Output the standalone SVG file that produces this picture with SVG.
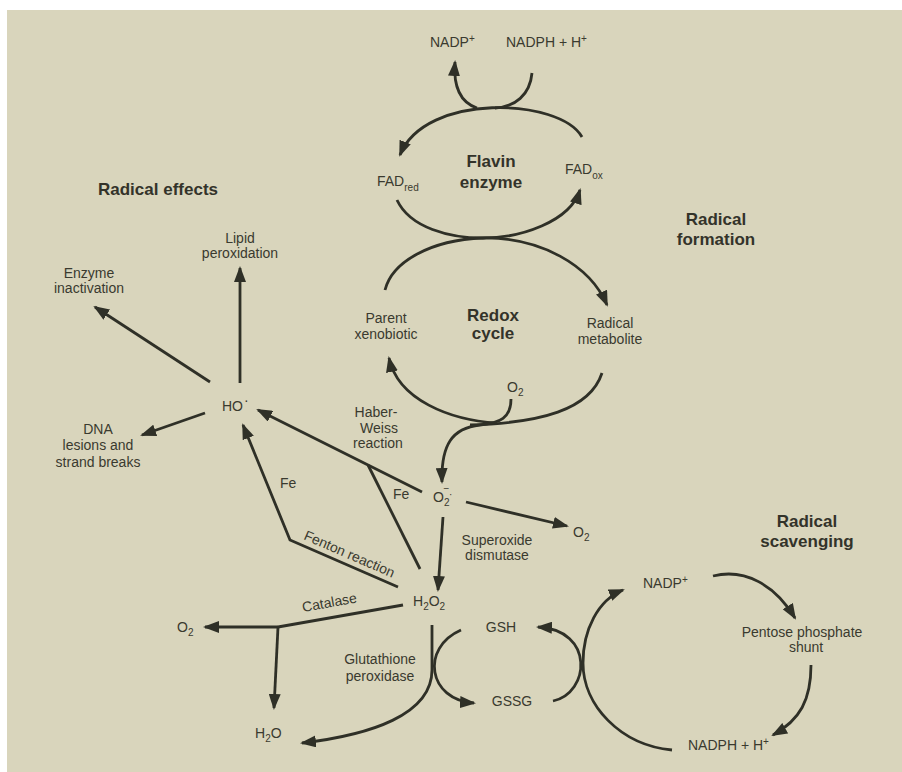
<svg xmlns="http://www.w3.org/2000/svg" width="902" height="772" viewBox="0 0 902 772">
<defs>
<style>
text{font-family:"Liberation Sans",Arial,sans-serif;font-size:14px;fill:#3a3a2f}
.b{font-weight:bold;font-size:17px;fill:#33332a}
.m{text-anchor:middle}
.s{font-size:10px}
.ln{fill:none;stroke:#2f3027;stroke-width:2.8}
.ar{marker-end:url(#ah)}
</style>
<marker id="ah" markerUnits="userSpaceOnUse" markerWidth="16" markerHeight="12" refX="14" refY="6" orient="auto">
<path d="M0,0 L16,6 L0,12 z" fill="#2f3027"/>
</marker>
</defs>
<rect width="902" height="772" fill="#ffffff"/>
<rect x="7" y="10" width="895" height="762" fill="#d9d5bc"/>

<g id="connectors">
<!-- flavin loop -->
<path class="ln ar" d="M582,137 C560,98 425,92 400,155"/>
<path class="ln ar" d="M477,108 C462,103 453,90 455,62"/>
<path class="ln" d="M532,73 C530,95 515,107 495,108"/>
<path class="ln ar" d="M397,200 C410,228 450,238 483,238 C520,238 570,222 580,190"/>
<!-- redox loop -->
<path class="ln ar" d="M385,290 C392,262 430,240 483,238 C540,237 590,265 607,305"/>
<path class="ln ar" d="M497,423 C450,420 398,400 389,358"/>
<path class="ln" d="M602,373 C590,410 540,423 470,425"/>
<path class="ln ar" d="M511,399 C511,418 500,423 480,425 C452,428 441,445 442,482"/>
<!-- radical effects -->
<path class="ln ar" d="M240,383 L240,268"/>
<path class="ln ar" d="M210,382 L95,307"/>
<path class="ln ar" d="M205,413 L142,435"/>
<!-- Haber-Weiss & Fenton -->
<path class="ln ar" d="M422,492 L258,410"/>
<path class="ln" d="M368,465 L420,569"/>
<path class="ln ar" d="M398,587 L290,540 L243,425"/>
<!-- superoxide -->
<path class="ln ar" d="M443,517 L438,590"/>
<path class="ln ar" d="M466,502 L567,526"/>
<!-- catalase -->
<path class="ln" d="M403,605 L278,627"/>
<path class="ln ar" d="M278,627 L205,627"/>
<path class="ln ar" d="M278,627 L274,708"/>
<!-- glutathione -->
<path class="ln ar" d="M432,625 L432,670 C432,715 370,735 302,743"/>
<path class="ln ar" d="M461,630 C420,648 428,700 474,703"/>
<path class="ln ar" d="M553,701 C590,693 595,630 538,627"/>
<!-- scavenging cycle -->
<path class="ln ar" d="M672,750 C620,745 583,705 583,663 C583,630 598,600 623,590"/>
<path class="ln ar" d="M713,576 C745,568 775,585 795,618"/>
<path class="ln ar" d="M811,665 C811,700 800,720 773,735"/>
</g>

<g id="nadp-top"><text x="430" y="47">NADP<tspan class="s" dy="-5">+</tspan></text></g>
<g id="nadph-top"><text x="506" y="47">NADPH + H<tspan class="s" dy="-5">+</tspan></text></g>
<g id="fad-red"><text x="377" y="186">FAD<tspan class="s" dy="5">red</tspan></text></g>
<g id="flavin-enzyme"><text class="b m" x="491" y="167">Flavin</text><text class="b m" x="491" y="188">enzyme</text></g>
<g id="fad-ox"><text x="565" y="174">FAD<tspan class="s" dy="5">ox</tspan></text></g>
<g id="radical-formation"><text class="b m" x="716" y="225">Radical</text><text class="b m" x="716" y="245">formation</text></g>
<g id="radical-effects"><text class="b m" x="158" y="195">Radical effects</text></g>
<g id="lipid"><text class="m" x="240" y="243">Lipid</text><text class="m" x="240" y="258">peroxidation</text></g>
<g id="enzyme"><text class="m" x="89" y="278">Enzyme</text><text class="m" x="89" y="293">inactivation</text></g>
<g id="parent"><text class="m" x="386" y="323">Parent</text><text class="m" x="386" y="339">xenobiotic</text></g>
<g id="redox-cycle"><text class="b m" x="493" y="321">Redox</text><text class="b m" x="493" y="339">cycle</text></g>
<g id="radical-metabolite"><text class="m" x="610" y="328">Radical</text><text class="m" x="610" y="344">metabolite</text></g>
<g id="o2-redox"><text x="507" y="392">O<tspan class="s" dy="4">2</tspan></text></g>
<g id="ho"><text x="222" y="411">HO<tspan dx="1" dy="-6">·</tspan></text></g>
<g id="haber-weiss"><text class="m" x="376" y="417">Haber-</text><text class="m" x="379" y="433">Weiss</text><text class="m" x="378" y="448">reaction</text></g>
<g id="dna"><text class="m" x="98" y="434">DNA</text><text class="m" x="98" y="450">lesions and</text><text class="m" x="98" y="467">strand breaks</text></g>
<g id="fe-1"><text x="280" y="488">Fe</text></g>
<g id="fe-2"><text x="393" y="499">Fe</text></g>
<g id="superoxide"><text x="433" y="502">O<tspan class="s" dy="4">2</tspan><tspan class="s" dx="-6" dy="-14">−</tspan></text><text class="s" x="449" y="498">·</text></g>
<g id="sod"><text class="m" x="497" y="545">Superoxide</text><text class="m" x="497" y="560">dismutase</text></g>
<g id="o2-right"><text x="573" y="537">O<tspan class="s" dy="4">2</tspan></text></g>
<g id="fenton"><text transform="translate(303,539) rotate(23.5)">Fenton reaction</text></g>
<g id="radical-scavenging"><text class="b m" x="807" y="527">Radical</text><text class="b m" x="807" y="547">scavenging</text></g>
<g id="nadp-bottom"><text x="643" y="588">NADP<tspan class="s" dy="-5">+</tspan></text></g>
<g id="h2o2"><text x="413" y="606">H<tspan class="s" dy="4">2</tspan><tspan dy="-4">O</tspan><tspan class="s" dy="4">2</tspan></text></g>
<g id="catalase"><text transform="translate(303,612) rotate(-10)">Catalase</text></g>
<g id="o2-left"><text x="177" y="632">O<tspan class="s" dy="4">2</tspan></text></g>
<g id="gsh"><text class="m" x="501" y="632">GSH</text></g>
<g id="gpx"><text class="m" x="380" y="664">Glutathione</text><text class="m" x="380" y="681">peroxidase</text></g>
<g id="pentose"><text class="m" x="802" y="637">Pentose phosphate</text><text class="m" x="806" y="652">shunt</text></g>
<g id="gssg"><text class="m" x="512" y="706">GSSG</text></g>
<g id="h2o"><text x="255" y="738">H<tspan class="s" dy="4">2</tspan><tspan dy="-4">O</tspan></text></g>
<g id="nadph-bottom"><text x="688" y="750">NADPH + H<tspan class="s" dy="-5">+</tspan></text></g>
</svg>
